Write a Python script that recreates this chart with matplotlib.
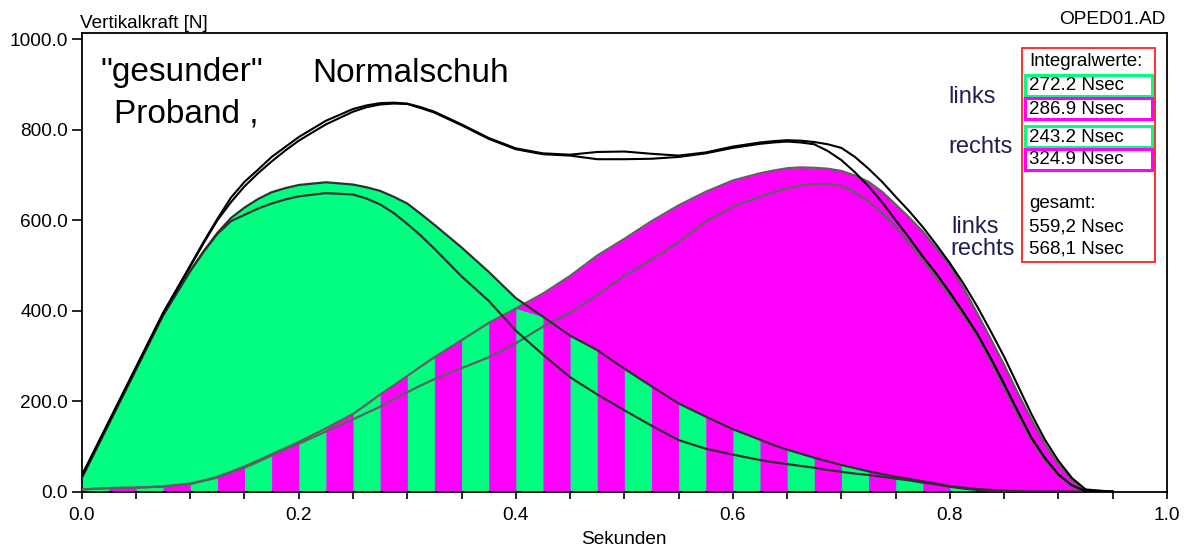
import numpy as np
import matplotlib
matplotlib.use('Agg')
import matplotlib.pyplot as plt
from matplotlib.patches import Rectangle

plt.rcParams['font.family'] = ['Liberation Sans', 'DejaVu Sans']

zeit = [0.0, 0.025, 0.05, 0.075, 0.1, 0.1125, 0.125, 0.1375, 0.15, 0.1625,
        0.175, 0.1875, 0.2, 0.225, 0.25, 0.2625, 0.275, 0.2875, 0.3, 0.3125,
        0.325, 0.35, 0.375, 0.4, 0.425, 0.45, 0.475, 0.5, 0.525, 0.55,
        0.575, 0.6, 0.625, 0.6375, 0.65, 0.6625, 0.675, 0.6875, 0.7, 0.7125,
        0.725, 0.7375, 0.75, 0.7625, 0.775, 0.7875, 0.8, 0.8125, 0.825, 0.8375,
        0.85, 0.8625, 0.875, 0.8875, 0.9, 0.9125, 0.925, 0.95]

# erster Fuss (gruen), zwei Messungen
gruen_1 = [30, 150, 270, 390, 488, 532, 572, 605, 628, 647,
           662, 671, 678, 684, 679, 673, 665, 652, 637, 614,
           590, 540, 486, 428, 387, 345, 313, 272, 233, 195,
           166, 138, 115, 103, 93, 84, 75, 67, 59, 52,
           45, 39, 33, 28, 23, 18, 12, 9, 6, 4,
           2, 1, 0, 0, 0, 0, 0, 0]
gruen_2 = [30, 150, 270, 390, 488, 531, 570, 598, 612, 626,
           637, 646, 653, 660, 657, 648, 635, 616, 592, 566,
           537, 476, 422, 356, 303, 253, 215, 180, 146, 114,
           95, 82, 70, 65, 61, 57, 53, 48, 44, 40,
           37, 33, 29, 25, 20, 16, 11, 7, 4, 2,
           1, 0, 0, 0, 0, 0, 0, 0]

# zweiter Fuss (magenta), zwei Messungen
magenta_1 = [5, 8, 9, 12, 18, 25, 33, 44, 56, 69,
             83, 96, 110, 140, 172, 193, 215, 235, 256, 277,
             297, 335, 373, 405, 438, 477, 522, 559, 598, 633,
             663, 688, 704, 710, 715, 717, 716, 714, 709, 699,
             685, 663, 635, 606, 575, 538, 500, 450, 395, 338,
             280, 218, 160, 105, 60, 25, 3, 0]
magenta_2 = [5, 8, 9, 11, 17, 24, 31, 42, 53, 66,
             80, 93, 106, 133, 160, 174, 188, 204, 220, 235,
             249, 273, 297, 328, 365, 396, 435, 477, 513, 552,
             597, 630, 652, 662, 670, 677, 680, 680, 676, 662,
             642, 616, 585, 550, 512, 473, 432, 390, 345, 288,
             230, 170, 115, 70, 35, 12, 1, 0]

# Summenkurven
summe_1 = [35, 155, 275, 395, 500, 553, 603, 650, 685, 712,
           740, 762, 784, 820, 846, 854, 859, 860, 858, 850,
           840, 812, 782, 759, 748, 745, 751, 752, 747, 743,
           750, 763, 772, 775, 777, 776, 773, 768, 760, 740,
           714, 685, 652, 620, 585, 546, 505, 460, 410, 355,
           298, 235, 172, 115, 68, 30, 5, 0]
summe_2 = [35, 155, 275, 395, 498, 550, 600, 640, 675, 704,
           730, 754, 776, 812, 840, 850, 856, 858, 857, 848,
           838, 810, 780, 757, 746, 743, 735, 735, 736, 740,
           748, 760, 769, 772, 774, 772, 768, 753, 733, 706,
           675, 640, 600, 561, 520, 482, 440, 396, 350, 296,
           238, 178, 120, 75, 38, 14, 1, 0]

integral_werte = ['272.2 Nsec', '286.9 Nsec', '243.2 Nsec', '324.9 Nsec']
gesamt_werte = ['559,2 Nsec', '568,1 Nsec']

GRUEN = '#00ff80'
MAGENTA = '#ff00ff'
W, H = 1191, 551

fig = plt.figure(figsize=(W / 100, H / 100), dpi=100)
ax = fig.add_axes([81.7 / W, 1 - 491.7 / H, (1167 - 81.7) / W, (491.7 - 33) / H])

x = np.array(zeit)
g1 = np.array(gruen_1)
m1 = np.array(magenta_1)

# Flaechen: gruen, magenta, Ueberlappung gestreift (0.025 s breit)
ax.fill_between(x, 0, g1, color=GRUEN, lw=0, zorder=1)
ax.fill_between(x, 0, m1, color=MAGENTA, lw=0, zorder=1.5)
unten = np.minimum(g1, m1)
breite = 0.025
for k in range(0, 38, 2):
    sel = (x >= k * breite - 1e-9) & (x <= (k + 1) * breite + 1e-9)
    if sel.sum() >= 2:
        ax.fill_between(x[sel], 0, unten[sel], color=GRUEN, lw=0, zorder=2)

# Linien
ax.plot(x, magenta_2, color='#606060', lw=1.6, zorder=3)
ax.plot(x, magenta_1, color='#606060', lw=1.6, zorder=3)
ax.plot(x, gruen_2, color='#303030', lw=1.6, zorder=3)
ax.plot(x, gruen_1, color='#303030', lw=1.6, zorder=3)
ax.plot(x, summe_2, color='black', lw=1.5, zorder=4)
ax.plot(x, summe_1, color='black', lw=1.5, zorder=4)

ax.set_xlim(0, 1.0)
ax.set_ylim(0, 1014)
xt = np.arange(0, 1.01, 0.05)
ax.set_xticks(xt)
ax.set_xticklabels(['%.1f' % v if round(v * 100) % 20 == 0 else '' for v in xt])
ax.set_yticks([0, 200, 400, 600, 800, 1000])
ax.set_yticklabels(['0.0', '200.0', '400.0', '600.0', '800.0', '1000.0'])
ax.tick_params(axis='x', length=5, width=1.2, pad=6, labelsize=13.7)
ax.tick_params(axis='y', length=7, width=1.2, pad=3, labelsize=13.7)
for s in ax.spines.values():
    s.set_linewidth(1.3)

def ft(px, py, s, **kw):
    fig.text(px / W, 1 - py / H, s, **kw)

ft(80, 23, 'Vertikalkraft [N]', fontsize=13.7, va='center', ha='left')
ft(1166, 20, 'OPED01.AD', fontsize=13.7, va='center', ha='right')
ft(624, 540, 'Sekunden', fontsize=13.7, va='center', ha='center')

ft(100, 73, '"gesunder"', fontsize=24, va='center')
ft(312, 73, 'Normalschuh', fontsize=24, va='center')
ft(114, 114, 'Proband ,', fontsize=24, va='center')

navy = '#202050'
ft(948, 97, 'links', fontsize=17, va='center', color=navy)
ft(948, 147, 'rechts', fontsize=17, va='center', color=navy)
ft(951, 227, 'links', fontsize=17, va='center', color=navy)
ft(950, 249, 'rechts', fontsize=17, va='center', color=navy)

# Kasten mit Integralwerten
def rect(x0, y0, x1, y1, farbe, lw):
    fig.patches.append(Rectangle((x0 / W, 1 - y1 / H), (x1 - x0) / W, (y1 - y0) / H,
                                 transform=fig.transFigure, fill=False,
                                 edgecolor=farbe, lw=lw, zorder=5))

rect(1022, 48, 1155, 262, '#ff2020', 1.3)
box_y = [(75, 96), (98, 119), (126, 147), (149, 170)]
box_farben = [GRUEN, MAGENTA, GRUEN, MAGENTA]
for (y0, y1), farbe, txt in zip(box_y, box_farben, integral_werte):
    rect(1025, y0, 1152, y1, farbe, 2.2)
    ft(1029, (y0 + y1) / 2 + 0.5, txt, fontsize=13.5, va='center')
ft(1029, 62, 'Integralwerte:', fontsize=13.5, va='center')
ft(1029, 204, 'gesamt:', fontsize=13.5, va='center')
ft(1029, 227, gesamt_werte[0], fontsize=13.5, va='center')
ft(1029, 249, gesamt_werte[1], fontsize=13.5, va='center')

plt.savefig('out.png', dpi=100)
